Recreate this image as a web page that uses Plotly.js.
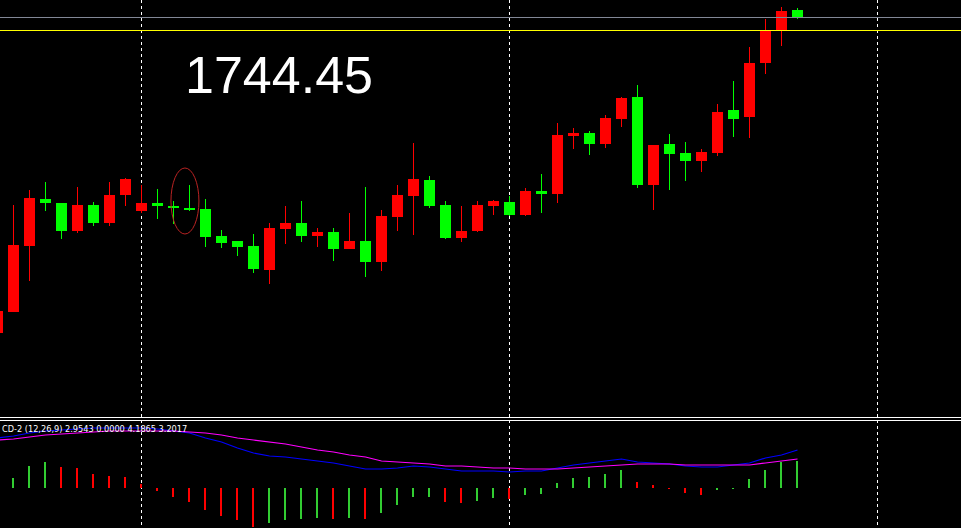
<!DOCTYPE html>
<html><head><meta charset="utf-8">
<script src="https://cdn.plot.ly/plotly-3.0.1.min.js"></script>
<style>html,body{margin:0;padding:0;background:#000;overflow:hidden}#chart{width:961px;height:528px}</style>
</head><body><div id="chart"></div>
<script>
// ---- data ----
const bars = [0,1,2,3,4,5,6,7,8,9,10,11,12,13,14,15,16,17,18,19,20,21,22,23,24,25,26,27,28,29,30,31,32,33,34,35,36,37,38,39,40,41,42,43,44,45,46,47,48,49,50];
const open  = [1714.20,1716.30,1722.90,1727.60,1727.20,1724.40,1727.00,1725.20,1728.00,1726.40,1727.20,1726.90,1726.70,1726.60,1723.90,1723.40,1722.90,1720.50,1724.60,1725.20,1723.90,1724.30,1722.60,1723.40,1721.30,1725.80,1727.90,1729.50,1727.00,1723.70,1724.40,1726.90,1727.30,1726.00,1728.40,1728.10,1733.90,1734.20,1733.10,1735.60,1737.80,1729.00,1733.10,1732.20,1731.40,1732.20,1736.50,1735.80,1741.20,1744.50,1746.50];
const high  = [1716.40,1727.00,1728.50,1729.30,1727.20,1728.80,1727.30,1729.30,1729.70,1729.00,1728.60,1727.40,1729.00,1727.60,1724.50,1723.40,1724.10,1725.20,1726.90,1727.40,1724.70,1724.70,1726.20,1728.80,1726.50,1729.00,1733.20,1729.90,1727.40,1726.90,1727.40,1727.50,1727.90,1728.70,1730.10,1735.20,1734.70,1734.40,1736.00,1737.80,1739.00,1733.00,1734.10,1733.30,1732.60,1737.10,1739.40,1742.80,1745.60,1746.80,1746.70];
const low   = [1714.20,1716.30,1719.40,1726.40,1723.60,1724.20,1724.90,1724.90,1726.90,1726.20,1725.60,1725.10,1726.40,1722.80,1722.70,1721.90,1720.20,1719.10,1723.10,1723.30,1722.80,1721.40,1722.60,1719.80,1720.40,1724.40,1724.00,1726.70,1723.60,1723.30,1724.30,1726.00,1725.90,1725.90,1726.20,1727.20,1732.60,1732.00,1732.70,1734.80,1728.70,1726.50,1728.50,1729.40,1730.30,1731.90,1733.80,1733.70,1740.10,1742.90,1745.60];
const close = [1716.40,1723.00,1727.70,1727.20,1724.40,1727.00,1725.20,1728.00,1729.60,1727.20,1726.90,1726.70,1726.50,1723.80,1723.20,1722.80,1720.60,1724.70,1725.20,1723.90,1724.30,1722.60,1723.40,1721.30,1725.90,1728.00,1729.60,1726.90,1723.70,1724.40,1727.00,1727.40,1726.00,1728.40,1728.10,1734.00,1734.20,1733.10,1735.70,1737.70,1729.00,1733.00,1732.10,1731.40,1732.30,1736.30,1735.60,1741.20,1744.40,1746.40,1745.70];

const macdHist   = [0.66,1.10,2.42,2.86,2.31,2.20,1.54,1.32,1.21,0.44,-0.33,-0.99,-1.54,-2.42,-3.08,-3.52,-4.29,-3.85,-3.52,-3.41,-3.30,-3.41,-3.30,-3.41,-2.75,-1.87,-0.99,-0.99,-1.54,-1.65,-1.43,-1.10,-1.21,-0.77,-0.66,0.55,1.10,1.21,1.54,1.98,0.66,0.33,-0.11,-0.55,-0.77,-0.22,-0.11,0.99,1.98,2.86,2.97];
const macdMain   = [5.50,5.72,6.05,6.27,6.38,6.49,6.60,6.60,6.60,6.60,6.49,6.27,6.05,5.50,5.06,4.40,3.85,3.52,3.41,3.19,2.97,2.75,2.42,2.09,2.09,2.20,2.42,2.31,2.09,1.87,1.87,1.87,1.76,1.87,1.87,2.20,2.53,2.75,2.97,3.19,2.86,2.75,2.64,2.42,2.31,2.31,2.53,2.75,3.30,3.63,4.18];
const macdSignal = [5.28,5.39,5.61,5.83,5.94,6.05,6.16,6.27,6.27,6.27,6.27,6.27,6.16,6.05,5.83,5.50,5.28,5.06,4.84,4.51,4.18,3.96,3.63,3.41,2.97,2.86,2.75,2.64,2.42,2.42,2.31,2.20,2.20,2.09,2.09,2.09,2.20,2.31,2.42,2.53,2.64,2.64,2.64,2.53,2.53,2.53,2.53,2.53,2.75,2.97,3.19];

const levelGrey = 1745.75;
const levelYellow = 1744.45;
const gridBars = [9, 32, 55];
const priceLabel = '1744.45';
const macdLabel = 'CD-2 (12,26,9) 2.9543 0.0000 4.1865 3.2017';
const markX = [10.84, 12.59];      // ellipse around bars 11-12
const markY = [1724.10, 1730.70];

// ---- styles ----
const UP = '#ff0000', DOWN = '#00ff00';
const HUP = '#32cd32', HDOWN = '#ff0000';
const W = 961, H = 528;

const isUp = bars.map(i => close[i] > open[i]);
const bodyBase = bars.map(i => Math.min(open[i], close[i]));
const bodyLen = bars.map(i => Math.abs(close[i] - open[i]));
const bodyCol = isUp.map(u => u ? UP : DOWN);
const wickLen = bars.map(i => high[i] - low[i]);

const histCol = macdHist.map((v, i) => (i === 0 || v >= macdHist[i - 1]) ? HUP : HDOWN);

const traces = [
  {type:'scatter', mode:'lines', x:[0, 61], y:[levelGrey, levelGrey], line:{color:'rgb(130,135,150)', width:1}, xaxis:'x', yaxis:'y'},
  {type:'scatter', mode:'lines', x:[0, 61], y:[levelYellow, levelYellow], line:{color:'#ffff00', width:1}, xaxis:'x', yaxis:'y'},
  {type:'bar', x:bars, y:wickLen, base:low, width:1/16, marker:{color:bodyCol, line:{width:0}}, xaxis:'x', yaxis:'y'},
  {type:'bar', x:bars, y:bodyLen, base:bodyBase, width:0.6875, marker:{color:bodyCol, line:{width:0}}, xaxis:'x', yaxis:'y'},
  {type:'bar', x:bars, y:macdHist, width:0.125, offset:-0.09375, marker:{color:histCol, line:{width:0}}, xaxis:'x2', yaxis:'y2'},
  {type:'scatter', mode:'lines', x:bars, y:macdMain, line:{color:'#0000ff', width:1.2}, xaxis:'x2', yaxis:'y2'},
  {type:'scatter', mode:'lines', x:bars, y:macdSignal, line:{color:'#ff00ff', width:1.2}, xaxis:'x2', yaxis:'y2'}
];

const xr = [2.5/16, 2.5/16 + W/16];
const xBase = {range:xr, tickvals:gridBars, showticklabels:false, ticks:'', showgrid:true,
  gridcolor:'#ffffff', gridwidth:1, griddash:'3px,3px', zeroline:false, showline:false, fixedrange:true};
const yBase = {showgrid:false, zeroline:false, showticklabels:false, ticks:'', showline:false, fixedrange:true};

const layout = {
  width:W, height:H, margin:{l:0, r:0, t:0, b:0, pad:0},
  paper_bgcolor:'#000', plot_bgcolor:'#000', showlegend:false, barmode:'overlay', hovermode:false,
  xaxis: Object.assign({}, xBase, {anchor:'y', domain:[0,1]}),
  yaxis: Object.assign({}, yBase, {anchor:'x', domain:[(H-417)/H, 1], range:[1747.50-41.7, 1747.50]}),
  xaxis2: Object.assign({}, xBase, {anchor:'y2', domain:[0,1]}),
  yaxis2: Object.assign({}, yBase, {anchor:'x2', domain:[0, 108/H], range:[-4.40, 7.48]}),
  shapes: [
    {type:'line', xref:'paper', yref:'paper', x0:0, x1:1, y0:(H-417.5)/H, y1:(H-417.5)/H, line:{color:'#ffffff', width:1}},
    {type:'line', xref:'paper', yref:'paper', x0:0, x1:1, y0:(H-420.5)/H, y1:(H-420.5)/H, line:{color:'#ffffff', width:1}},
    {type:'circle', xref:'x', yref:'y', x0:markX[0], x1:markX[1], y0:markY[0], y1:markY[1], line:{color:'rgb(185,35,35)', width:1}}
  ],
  annotations: [
    {xref:'paper', yref:'paper', x:279/W, y:1-74.5/H, xanchor:'center', yanchor:'middle', showarrow:false,
     text:priceLabel, font:{family:'Liberation Sans, Arial, sans-serif', size:52, color:'#ffffff', weight:500}},
    {xref:'paper', yref:'paper', x:0, y:1-428.5/H, xanchor:'left', yanchor:'middle', showarrow:false,
     text:macdLabel, font:{family:'Liberation Sans Narrow, Arial Narrow, DejaVu Sans Condensed, sans-serif', size:9.1, color:'#ffffff'}}
  ]
};

Plotly.newPlot('chart', traces, layout, {staticPlot:true, displayModeBar:false});
</script>
</body></html>
